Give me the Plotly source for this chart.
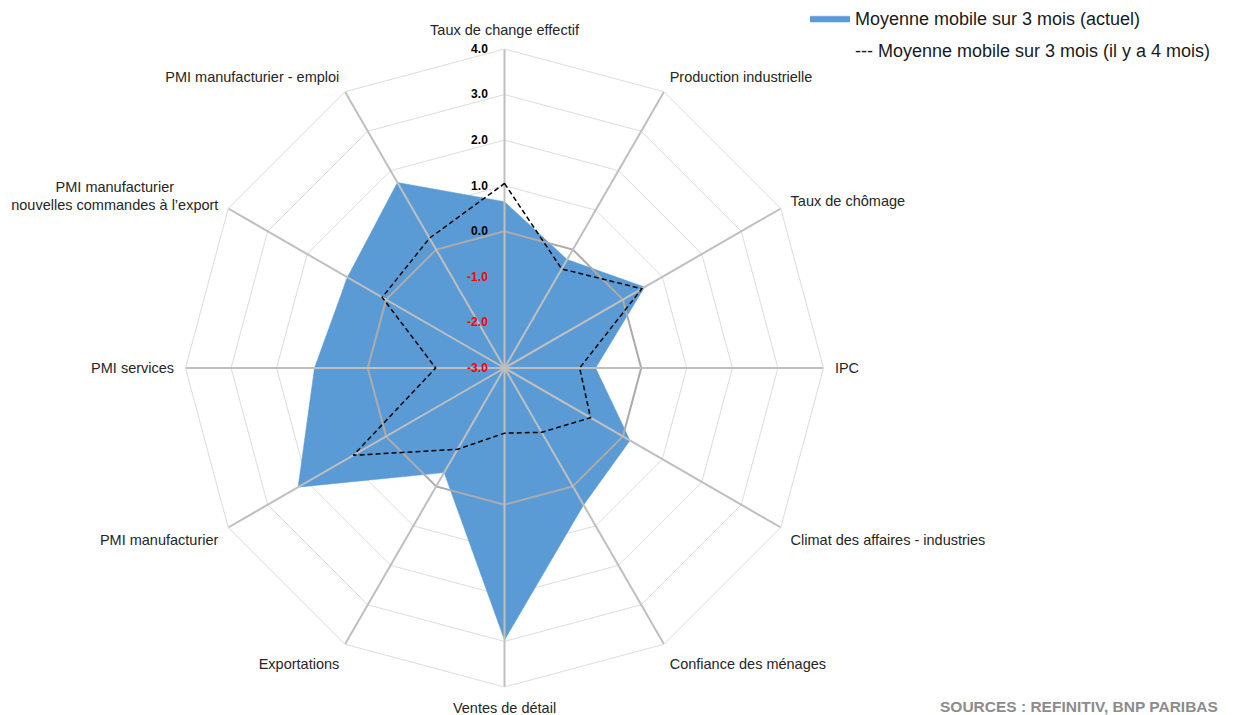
import plotly.graph_objects as go

NBSP = "\u00a0"
categories = [
    "Taux de change effectif",
    "Production industrielle",
    "Taux de chômage",
    "IPC",
    "Climat des affaires - industries",
    "Confiance des ménages",
    "Ventes de détail",
    "Exportations",
    "PMI manufacturier",
    "PMI services",
    "PMI manufacturier" + NBSP * 11 + "<br>nouvelles commandes à l’export",
    "PMI manufacturier - emploi",
]
current = [0.65, -0.25, 0.55, -1.00, 0.18, 0.47, 2.97, -0.35, 2.23, 1.17, 0.98, 1.70]
previous = [1.05, -0.49, 0.48, -1.35, -0.82, -1.37, -1.57, -0.94, 0.83, -1.49, 0.10, 0.29]
tick_vals = [-3, -2, -1, 0, 1, 2, 3, 4]
tick_labels = ["-3.0", "-2.0", "-1.0", "0.0", "1.0", "2.0", "3.0", "4.0"]

name_cur = "Moyenne mobile sur 3 mois (actuel)"
name_prev = "--- Moyenne mobile sur 3 mois (il y a 4 mois)"
source = "SOURCES : REFINITIV, BNP PARIBAS"

FONT = "Liberation Sans, Arial, sans-serif"
BLUE = "#5B9BD5"

ticktext = [
    f'<span style="color:#FF0000">{t}</span>' if v < 0 else t
    for v, t in zip(tick_vals, tick_labels)
]

closed = lambda a: list(a) + [a[0]]

fig = go.Figure()
fig.add_trace(go.Scatterpolar(
    r=closed(current), theta=closed(categories), mode="lines",
    fill="toself", fillcolor=BLUE, line=dict(color=BLUE, width=0.5),
    name=name_cur, legendgroup="a", hoverinfo="skip",
))
# zero reference ring
fig.add_trace(go.Scatterpolar(
    r=closed([0] * len(categories)), theta=closed(categories), mode="lines",
    line=dict(color="#ABABAB", width=2), showlegend=False, hoverinfo="skip",
))
# spokes
sr, st = [], []
for c in categories:
    sr += [tick_vals[0], tick_vals[-1], None]
    st += [c, c, None]
fig.add_trace(go.Scatterpolar(
    r=sr, theta=st, mode="lines", connectgaps=False,
    line=dict(color="#BFBFBF", width=2), showlegend=False, hoverinfo="skip",
))
fig.add_trace(go.Scatterpolar(
    r=closed(previous), theta=closed(categories), mode="lines",
    line=dict(color="#000000", width=1.5, dash="5px,3px"),
    showlegend=False, hoverinfo="skip",
))
# legend-only entry (text carries its own dash marker)
fig.add_trace(go.Scatterpolar(
    r=[None], theta=[categories[0]], mode="lines",
    line=dict(color="rgba(0,0,0,0)", width=1),
    name=name_prev, legendgroup="b",
))

W, H = 1238, 715
cx, cy, R = 504.5, 368, 319
fig.update_layout(
    width=W, height=H,
    margin=dict(l=0, r=0, t=0, b=0, autoexpand=False),
    paper_bgcolor="white", plot_bgcolor="white",
    font=dict(family=FONT, size=15, color="#262626"),
    polar=dict(
        domain=dict(x=[(cx - R) / W, (cx + R) / W], y=[(H - cy - R) / H, (H - cy + R) / H]),
        gridshape="linear",
        bgcolor="white",
        radialaxis=dict(
            range=[tick_vals[0], tick_vals[-1]],
            tickvals=tick_vals, ticktext=ticktext,
            angle=90, side="counterclockwise", tickangle=90,
            showline=False, ticks="outside", ticklen=12, tickcolor="rgba(0,0,0,0)",
            gridcolor="#DDDDDD", gridwidth=1,
            tickfont=dict(family=FONT, size=12, color="#000000", weight="bold"),
        ),
        angularaxis=dict(
            rotation=90, direction="clockwise",
            showgrid=False, showline=True, linecolor="#DDDDDD", linewidth=1,
            ticks="outside", ticklen=8, tickcolor="rgba(0,0,0,0)",
            tickfont=dict(family=FONT, size=14.5, color="#262626"),
        ),
    ),
    legend=dict(
        x=805 / W, xanchor="left", y=1.0, yanchor="top",
        font=dict(family=FONT, size=18, color="#1A1A1A"),
        tracegroupgap=5, itemwidth=40, bgcolor="rgba(0,0,0,0)",
    ),
    annotations=[dict(
        text=source, xref="paper", yref="paper",
        x=1220 / W, y=(H - 706) / H, xanchor="right", yanchor="middle",
        showarrow=False,
        font=dict(family=FONT, size=15.5, color="#8C8C8C", weight="bold"),
    )],
)
fig.write_html(
    "out.html",
    config={"displayModeBar": False},
    post_script="document.body.style.margin='0px';",
)
